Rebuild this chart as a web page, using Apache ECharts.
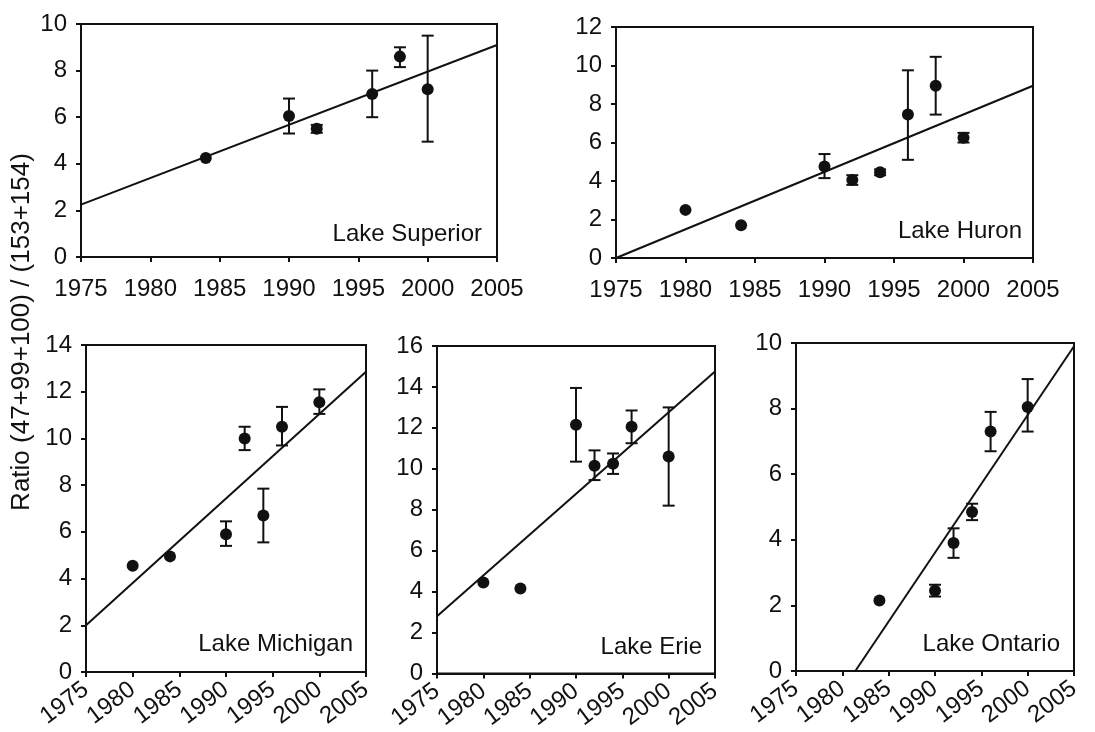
<!DOCTYPE html>
<html>
<head>
<meta charset="utf-8">
<script src="https://cdn.jsdelivr.net/npm/echarts@6/dist/echarts.min.js"></script>
<style>
html,body{margin:0;padding:0;background:#fff;}
#chart{width:1095px;height:732px;}
</style>
</head>
<body>
<div id="chart"></div>
<script>
// ---------- DATA ----------
const lakeNames = ['Lake Superior', 'Lake Huron', 'Lake Michigan', 'Lake Erie', 'Lake Ontario'];
const yAxisTitle = 'Ratio (47+99+100) / (153+154)';
const yMaxes = [10, 12, 14, 16, 10];

const superiorYears = [1984, 1990, 1992, 1996, 1998, 2000];
const superiorValues = [4.25, 6.05, 5.5, 7.0, 8.6, 7.2];
const superiorLow = [null, 5.3, 5.33, 6.0, 8.15, 4.95];
const superiorHigh = [null, 6.8, 5.67, 8.0, 9.0, 9.5];
const superiorFitX = [1975, 2005];
const superiorFitY = [2.25, 9.1];

const huronYears = [1980, 1984, 1990, 1992, 1994, 1996, 1998, 2000];
const huronValues = [2.5, 1.7, 4.75, 4.05, 4.45, 7.45, 8.95, 6.25];
const huronLow = [null, null, 4.15, 3.8, 4.3, 5.1, 7.45, 6.0];
const huronHigh = [null, null, 5.4, 4.3, 4.6, 9.75, 10.45, 6.5];
const huronFitX = [1975, 2005];
const huronFitY = [0, 8.95];

const michiganYears = [1980, 1984, 1990, 1992, 1994, 1996, 2000];
const michiganValues = [4.55, 4.95, 5.9, 10.0, 6.7, 10.5, 11.55];
const michiganLow = [null, null, 5.4, 9.5, 5.55, 9.7, 11.05];
const michiganHigh = [null, null, 6.45, 10.5, 7.85, 11.35, 12.1];
const michiganFitX = [1975, 2005];
const michiganFitY = [2.0, 12.85];

const erieYears = [1980, 1984, 1990, 1992, 1994, 1996, 2000];
const erieValues = [4.45, 4.15, 12.15, 10.15, 10.25, 12.05, 10.6];
const erieLow = [null, null, 10.35, 9.45, 9.75, 11.25, 8.2];
const erieHigh = [null, null, 13.95, 10.9, 10.75, 12.85, 13.0];
const erieFitX = [1975, 2005];
const erieFitY = [2.8, 14.75];

const ontarioYears = [1984, 1990, 1992, 1994, 1996, 2000];
const ontarioValues = [2.15, 2.45, 3.9, 4.85, 7.3, 8.05];
const ontarioLow = [null, 2.27, 3.45, 4.6, 6.7, 7.3];
const ontarioHigh = [null, 2.63, 4.35, 5.1, 7.9, 8.9];
const ontarioFitX = [1981.4, 2005];
const ontarioFitY = [0, 9.9];

// ---------- LAYOUT ----------
const lakes = [
  {years: superiorYears, values: superiorValues, low: superiorLow, high: superiorHigh, fx: superiorFitX, fy: superiorFitY},
  {years: huronYears, values: huronValues, low: huronLow, high: huronHigh, fx: huronFitX, fy: huronFitY},
  {years: michiganYears, values: michiganValues, low: michiganLow, high: michiganHigh, fx: michiganFitX, fy: michiganFitY},
  {years: erieYears, values: erieValues, low: erieLow, high: erieHigh, fx: erieFitX, fy: erieFitY},
  {years: ontarioYears, values: ontarioValues, low: ontarioLow, high: ontarioHigh, fx: ontarioFitX, fy: ontarioFitY}
];
const grids = [
  {left: 81, top: 24, width: 416, height: 233},
  {left: 616, top: 27, width: 417, height: 231},
  {left: 86, top: 345, width: 280, height: 327},
  {left: 437, top: 346, width: 278, height: 330},
  {left: 796, top: 343, width: 278, height: 328}
];
const namePos = [[482, 234], [1022, 231], [353, 644], [702, 647], [1060, 644]];
const rotated = [false, false, true, true, true];

const INK = '#111';
const FONT = 'Liberation Sans, Arial, sans-serif';

const option = {
  backgroundColor: '#fff',
  animation: false,
  grid: grids.map(g => Object.assign({show: true, borderColor: INK, borderWidth: 2, backgroundColor: 'transparent', containLabel: false}, g)),
  xAxis: grids.map((g, i) => ({
    type: 'value', gridIndex: i, min: 1975, max: 2005, interval: 5,
    axisLine: {show: true, onZero: false, lineStyle: {color: INK, width: 2}},
    axisTick: {show: true, inside: false, length: 5, lineStyle: {color: INK, width: 2}},
    splitLine: {show: false},
    axisLabel: {
      color: INK, fontFamily: FONT, fontSize: 24, margin: rotated[i] ? 15 : 20,
      rotate: rotated[i] ? 37 : 0,
      formatter: v => String(v)
    }
  })),
  yAxis: grids.map((g, i) => ({
    type: 'value', gridIndex: i, min: 0, max: yMaxes[i], interval: 2,
    axisLine: {show: true, onZero: false, lineStyle: {color: INK, width: 2}},
    axisTick: {show: true, inside: false, length: 5, lineStyle: {color: INK, width: 2}},
    splitLine: {show: false},
    axisLabel: {color: INK, fontFamily: FONT, fontSize: 24, margin: 14}
  })),
  graphic: [
    {
      type: 'text', x: 22, y: 332, rotation: Math.PI / 2,
      style: {text: yAxisTitle, fill: INK, font: '26px ' + FONT, textAlign: 'center', textVerticalAlign: 'middle'}
    }
  ].concat(lakeNames.map((n, i) => ({
    type: 'text', x: namePos[i][0], y: namePos[i][1],
    style: {text: n, fill: INK, font: '24px ' + FONT, textAlign: 'right', textVerticalAlign: 'middle'}
  }))),
  series: []
};

lakes.forEach((lk, i) => {
  // regression line
  option.series.push({
    type: 'line', xAxisIndex: i, yAxisIndex: i,
    data: lk.fx.map((x, k) => [x, lk.fy[k]]),
    symbol: 'none', lineStyle: {color: INK, width: 2}, silent: true, z: 2
  });
  // error bars
  const eb = [];
  lk.years.forEach((y, k) => {
    if (lk.low[k] !== null && lk.high[k] !== null) eb.push([y, lk.low[k], lk.high[k]]);
  });
  option.series.push({
    type: 'custom', xAxisIndex: i, yAxisIndex: i, data: eb, z: 5,
    renderItem: function (params, api) {
      const lo = api.coord([api.value(0), api.value(1)]);
      const hi = api.coord([api.value(0), api.value(2)]);
      const w = 6;
      const st = {stroke: INK, lineWidth: 2};
      return {
        type: 'group',
        children: [
          {type: 'line', shape: {x1: lo[0], y1: lo[1], x2: hi[0], y2: hi[1]}, style: st},
          {type: 'line', shape: {x1: lo[0] - w, y1: lo[1], x2: lo[0] + w, y2: lo[1]}, style: st},
          {type: 'line', shape: {x1: hi[0] - w, y1: hi[1], x2: hi[0] + w, y2: hi[1]}, style: st}
        ]
      };
    }
  });
  // points
  option.series.push({
    type: 'scatter', xAxisIndex: i, yAxisIndex: i,
    data: lk.years.map((y, k) => [y, lk.values[k]]),
    symbol: 'circle', symbolSize: 12, itemStyle: {color: INK, opacity: 1}, z: 4
  });
});

const chart = echarts.init(document.getElementById('chart'), null, {renderer: 'canvas'});
chart.setOption(option);
</script>
</body>
</html>
